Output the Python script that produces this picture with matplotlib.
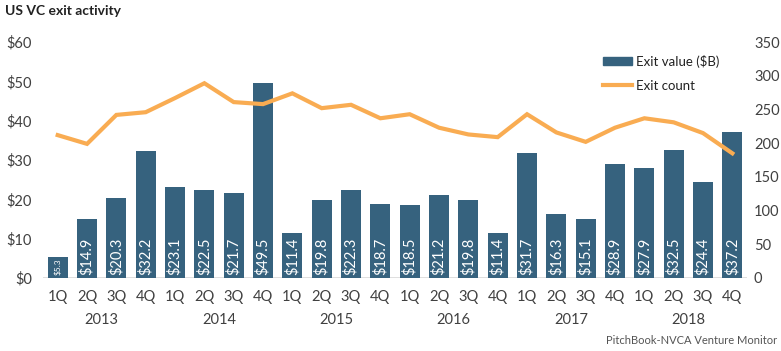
import matplotlib
matplotlib.use("Agg")
import matplotlib.pyplot as plt
from matplotlib.patches import Patch
from matplotlib.lines import Line2D
import matplotlib.transforms as mtransforms

plt.rcParams['font.family'] = ['Lato', 'DejaVu Sans']

# data
years = ['2013', '2014', '2015', '2016', '2017', '2018']
quarters = ['1Q', '2Q', '3Q', '4Q'] * len(years)
exit_value = [5.3, 14.9, 20.3, 32.2, 23.1, 22.5, 21.7, 49.5,
              11.4, 19.8, 22.3, 18.7, 18.5, 21.2, 19.8, 11.4,
              31.7, 16.3, 15.1, 28.9, 27.9, 32.5, 24.4, 37.2]
exit_count = [212, 199, 242, 246, 267, 289, 261, 258,
              274, 252, 257, 237, 243, 223, 213, 209,
              243, 216, 202, 223, 237, 231, 215, 185]

bar_color = '#36627e'
line_color = '#f9ac52'
text_color = '#404040'

fig = plt.figure(figsize=(7.81, 3.51), dpi=100)
ax = fig.add_axes([0.0551, 0.208, 0.9014, 0.672])
ax2 = ax.twinx()

x = list(range(len(exit_value)))
ax.bar(x, exit_value, width=0.68, color=bar_color, zorder=2)
ax2.plot(x, exit_count, color=line_color, lw=3, solid_joinstyle='miter', zorder=3)

# value labels inside bars
for xi, v in zip(x, exit_value):
    fs = 6 if v < 8 else 10.5
    ax.annotate(f"${v}", (xi, 0), xytext=(0, 2), textcoords='offset points',
                rotation=90, ha='center', va='bottom', color='white', fontsize=fs, zorder=4)

ax.set_xlim(-0.5, len(x) - 0.5)
ax.set_ylim(0, 60)
ax2.set_ylim(0, 350)
ax.set_yticks(range(0, 61, 10))
ax.set_yticklabels([f"${t}" for t in range(0, 61, 10)])
ax2.set_yticks(range(0, 351, 50))

for a in (ax, ax2):
    for s in a.spines.values():
        s.set_visible(False)
    a.tick_params(length=0, labelsize=10.5, labelcolor=text_color)
ax.tick_params(axis='y', pad=8)
ax2.tick_params(axis='y', pad=5)
ax.axhline(0, color='#d9d9d9', lw=1.2, zorder=1)

ax.set_xticks(x)
ax.set_xticklabels(quarters)
ax.tick_params(axis='x', pad=9)

trans = mtransforms.blended_transform_factory(ax.transData, ax.transAxes)
for i, yr in enumerate(years):
    ax.text(i * 4 + 1.5, -0.18, yr, transform=trans, ha='center', va='center',
            fontsize=10.5, color=text_color)

ax2.legend(handles=[Patch(color=bar_color, label='Exit value ($B)'),
                    Line2D([0], [0], color=line_color, lw=3, label='Exit count')],
           loc='upper left', bbox_to_anchor=(0.778, 0.997), frameon=False,
           fontsize=9.5, handlelength=2.2, handleheight=0.6, handletextpad=0.3,
           labelspacing=0.9, labelcolor='#222222')

fig.text(0.006, 0.97, 'US VC exit activity', fontsize=10, fontweight='bold',
         color='#222222', ha='left', va='center')
fig.text(0.995, 0.03, 'PitchBook-NVCA Venture Monitor', fontsize=8,
         color='#555555', ha='right', va='center')

fig.savefig('out.png', dpi=100)
